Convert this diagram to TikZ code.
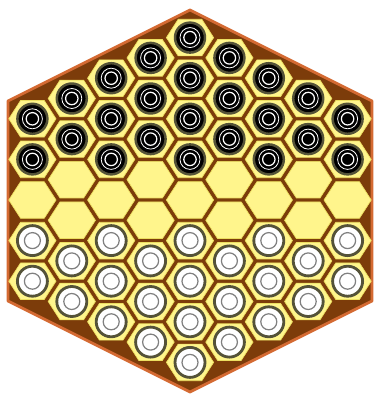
\documentclass[tikz,border=0pt]{standalone}
\definecolor{boardbrown}{RGB}{124,60,10}
\definecolor{boardrim}{RGB}{212,106,50}
\definecolor{cellfill}{RGB}{255,245,140}
\definecolor{celledge}{RGB}{236,222,96}
\definecolor{stonerim}{RGB}{84,82,56}
\begin{document}
\begin{tikzpicture}[x=0.02cm,y=-0.02cm,
  cell/.style={fill=cellfill,draw=celledge,line width=0.4pt},
  blackstone/.style={fill=black,draw=stonerim,line width=1.4pt},
  whitestone/.style={fill=white,draw=stonerim,line width=1.6pt},
  ring/.style={line width=0.45pt}]
\useasboundingbox (0,0) rectangle (377,394);
% board
\filldraw[fill=boardbrown,draw=boardrim,line width=1.6pt,line join=round]
  (190,10) -- (372,101) -- (372,301) -- (190,392) -- (8,301) -- (8,101) -- cycle;
% cells, columns of 5..9
\foreach \c in {-4,...,4}{
  \pgfmathtruncatemacro{\n}{9-abs(\c)}
  \foreach \r in {1,...,\n}{
    \pgfmathsetmacro{\x}{190+39.4*\c}
    \pgfmathsetmacro{\d}{\r-(\n+1)/2}
    \pgfmathsetmacro{\y}{200+40.6*\d}
    \draw[cell] (\x,\y) +(-23.6,0) -- +(-11.8,-18.3) -- +(11.8,-18.3)
      -- +(23.6,0) -- +(11.8,18.3) -- +(-11.8,18.3) -- cycle;
    \ifdim\d pt<-0.9pt
      \draw[blackstone] (\x,\y) circle (15);
      \draw[white,ring] (\x,\y) circle (10);
      \draw[white,line width=0.7pt] (\x,\y) circle (6.2);
    \fi
    \ifdim\d pt>0.9pt
      \draw[whitestone] (\x,\y) circle (15);
      \draw[gray,line width=0.7pt] (\x,\y) circle (8);
    \fi
  }
}
\end{tikzpicture}
\end{document}
